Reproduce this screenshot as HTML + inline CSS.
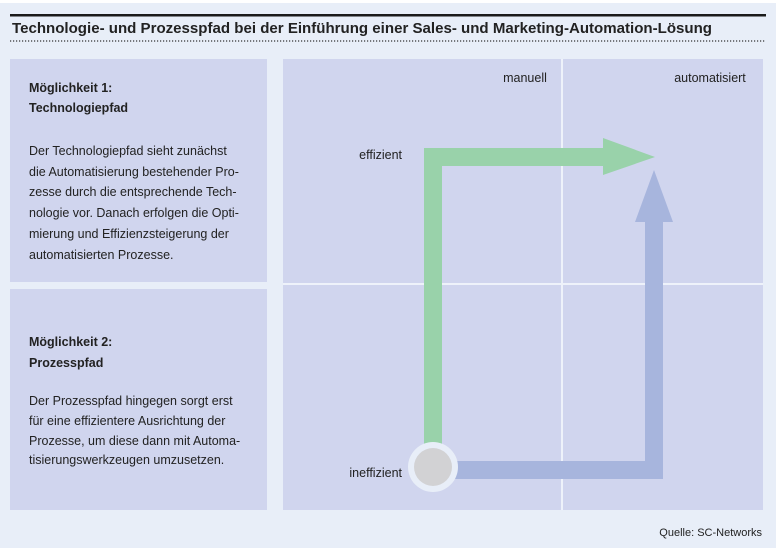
<!DOCTYPE html>
<html><head><meta charset="utf-8"><style>
html,body{margin:0;padding:0;background:#fff;}
svg{display:block;}
text{font-family:"Liberation Sans Narrow","Liberation Sans",sans-serif;fill:#222;}
</style></head><body>
<svg width="776" height="552" viewBox="0 0 776 552" xmlns="http://www.w3.org/2000/svg">
<rect x="0" y="3" width="776" height="545" fill="#e8eef8"/>
<rect x="10" y="14" width="756" height="2.5" fill="#1a1a1a"/>
<text x="12" y="33" font-size="15" font-weight="bold" fill="#1a1a1a" style="font-family:'Liberation Sans',sans-serif" textLength="700" lengthAdjust="spacingAndGlyphs">Technologie- und Prozesspfad bei der Einführung einer Sales- und Marketing-Automation-Lösung</text>
<line x1="10" y1="41" x2="766" y2="41" stroke="#333" stroke-width="1.2" stroke-dasharray="1.2,1.8"/>
<rect x="10" y="59" width="257" height="223" fill="#d0d5ee"/>
<rect x="10" y="289" width="257" height="221" fill="#d0d5ee"/>
<rect x="283" y="59" width="480" height="451" fill="#d0d5ee"/>
<rect x="561" y="59" width="2" height="451" fill="#eef2fa"/>
<rect x="283" y="283" width="480" height="2" fill="#eef2fa"/>
<g font-size="12.5" font-weight="bold">
<text x="29" y="92">Möglichkeit 1:</text>
<text x="29" y="112">Technologiepfad</text>
<text x="29" y="346">Möglichkeit 2:</text>
<text x="29" y="367">Prozesspfad</text>
</g>
<g font-size="12.5">
<text x="29" y="155">Der Technologiepfad sieht zunächst</text>
<text x="29" y="176">die Automatisierung bestehender Pro-</text>
<text x="29" y="196">zesse durch die entsprechende Tech-</text>
<text x="29" y="217">nologie vor. Danach erfolgen die Opti-</text>
<text x="29" y="238">mierung und Effizienzsteigerung der</text>
<text x="29" y="259">automatisierten Prozesse.</text>
<text x="29" y="405">Der Prozesspfad hingegen sorgt erst</text>
<text x="29" y="425">für eine effizientere Ausrichtung der</text>
<text x="29" y="445">Prozesse, um diese dann mit Automa-</text>
<text x="29" y="464">tisierungswerkzeugen umzusetzen.</text>
<text x="525" y="82" text-anchor="middle">manuell</text>
<text x="710" y="82" text-anchor="middle">automatisiert</text>
<text x="402" y="159" text-anchor="end">effizient</text>
<text x="402" y="477" text-anchor="end">ineffizient</text>
</g>
<text x="762" y="536" font-size="11" text-anchor="end">Quelle: SC-Networks</text>
<!-- green arrow -->
<polygon points="424,450 424,148 603,148 603,138 655,157 603,175 603,166 442,166 442,450" fill="#99d2aa"/>
<!-- blue arrow -->
<polygon points="440,461 645,461 645,222 635,222 654,170 673,222 663,222 663,479 440,479" fill="#a7b5dd"/>
<circle cx="433" cy="467" r="25" fill="#e8eef8"/>
<circle cx="433" cy="467" r="19" fill="#d2d2d4"/>
</svg>
</body></html>
